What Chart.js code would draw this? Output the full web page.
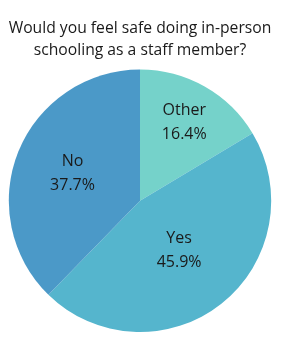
<!DOCTYPE html>
<html>
<head>
<meta charset="utf-8">
<script src="https://cdn.jsdelivr.net/npm/chart.js@4.4.0/dist/chart.umd.min.js"></script>
<style>
  html, body { margin: 0; padding: 0; background: #fff; }
  #wrap { width: 289px; height: 349px; }
</style>
</head>
<body>
<div id="wrap"><canvas id="myChart"></canvas></div>
<script>
  const titleLines = ["Would you feel safe doing in-person", "schooling as a staff member?"];
  const labels = ["Other", "Yes", "No"];
  const values = [16.4, 45.9, 37.7];
  const colors = ["#75d2ca", "#55b5cd", "#4b99c8"];
  // how far out each label sits, as a share of the radius
  const labelRadius = [0.685, 0.48, 0.555];

  const sliceLabels = {
    id: "sliceLabels",
    afterDatasetsDraw(chart) {
      const ctx = chart.ctx;
      const meta = chart.getDatasetMeta(0);
      ctx.save();
      ctx.font = "16px 'Open Sans'";
      ctx.fillStyle = "#1a1a1a";
      ctx.textAlign = "center";
      ctx.textBaseline = "middle";
      meta.data.forEach((arc, i) => {
        const p = arc.getProps(["x", "y", "startAngle", "endAngle", "outerRadius"], true);
        const mid = (p.startAngle + p.endAngle) / 2;
        const r = p.outerRadius * labelRadius[i];
        const x = p.x + Math.cos(mid) * r;
        const y = p.y + Math.sin(mid) * r;
        ctx.fillText(labels[i], x, y - 12);
        ctx.fillText(values[i].toFixed(1) + "%", x, y + 12);
      });
      ctx.restore();
    }
  };

  new Chart("myChart", {
    type: "pie",
    data: {
      labels: labels,
      datasets: [{
        data: values,
        backgroundColor: colors,
        borderWidth: 0
      }]
    },
    options: {
      responsive: true,
      maintainAspectRatio: false,
      animation: false,
      layout: { padding: { left: 0, right: 9, top: 0, bottom: 17 } },
      plugins: {
        legend: { display: false },
        tooltip: { enabled: false },
        title: {
          display: true,
          text: titleLines,
          color: "#1a1a1a",
          font: { family: "'Open Sans'", size: 15.7, weight: "normal", lineHeight: 1.42 },
          padding: { top: 17, bottom: 8 }
        }
      }
    },
    plugins: [sliceLabels]
  });
</script>
</body>
</html>
